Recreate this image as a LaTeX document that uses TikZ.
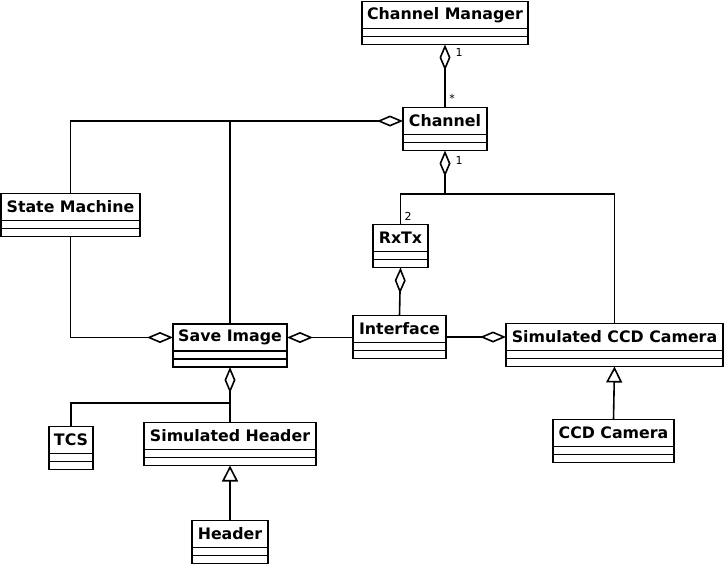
\documentclass[tikz,border=0pt]{standalone}
\usepackage{fontspec}
\setmainfont{DejaVu Sans}
\usetikzlibrary{positioning,arrows.meta}

\tikzset{
  classtitle/.style={draw, line width=1.6pt, minimum height=27pt, inner sep=0pt, outer sep=0pt, font=\fontsize{15.8}{18}\selectfont\bfseries},
  classpart/.style={draw, line width=1.6pt, minimum height=8pt, inner sep=0pt, outer sep=0pt},
  aggr/.style={line width=1.6pt, {Diamond[open,length=26pt,width=11pt]}-},
  gen/.style={line width=1.6pt, -{Triangle[open,length=16pt,width=16pt]}},
  link/.style={line width=1.6pt},
  mult/.style={font=\fontsize{11}{13}\selectfont, inner sep=0pt}
}

\begin{document}
\begin{tikzpicture}[x=1pt, y=-1pt]
\useasboundingbox (0,0) rectangle (725,565);

% Draw the classes (title + two compartments)
\node[classtitle, minimum width=166pt] (mgr) at (445,15) {Channel Manager};
\node[classpart, minimum width=166pt, below=0pt of mgr] (mgr-a) {};
\node[classpart, minimum width=166pt, below=0pt of mgr-a] (mgr-o) {};
\node[classtitle, minimum width=84pt] (chan) at (445,121) {Channel};
\node[classpart, minimum width=84pt, below=0pt of chan] (chan-a) {};
\node[classpart, minimum width=84pt, below=0pt of chan-a] (chan-o) {};
\node[classtitle, minimum width=139pt] (sm) at (70.5,207) {State Machine};
\node[classpart, minimum width=139pt, below=0pt of sm] (sm-a) {};
\node[classpart, minimum width=139pt, below=0pt of sm-a] (sm-o) {};
\node[classtitle, minimum width=55pt] (rxtx) at (400.5,238) {RxTx};
\node[classpart, minimum width=55pt, below=0pt of rxtx] (rxtx-a) {};
\node[classpart, minimum width=55pt, below=0pt of rxtx-a] (rxtx-o) {};
\node[classtitle, minimum width=93pt] (iface) at (399.5,329) {Interface};
\node[classpart, minimum width=93pt, below=0pt of iface] (iface-a) {};
\node[classpart, minimum width=93pt, below=0pt of iface-a] (iface-o) {};
\node[classtitle, minimum width=217pt] (cam) at (614.5,337) {Simulated CCD Camera};
\node[classpart, minimum width=217pt, below=0pt of cam] (cam-a) {};
\node[classpart, minimum width=217pt, below=0pt of cam-a] (cam-o) {};
\node[classtitle, minimum width=114pt] (save) at (230,337.5) {Save Image};
\node[classpart, minimum width=114pt, below=0pt of save] (save-a) {};
\node[classpart, minimum width=114pt, below=0pt of save-a] (save-o) {};
\node[classtitle, minimum width=44pt] (tcs) at (71,440) {TCS};
\node[classpart, minimum width=44pt, below=0pt of tcs] (tcs-a) {};
\node[classpart, minimum width=44pt, below=0pt of tcs-a] (tcs-o) {};
\node[classtitle, minimum width=172pt] (simhdr) at (230,436) {Simulated Header};
\node[classpart, minimum width=172pt, below=0pt of simhdr] (simhdr-a) {};
\node[classpart, minimum width=172pt, below=0pt of simhdr-a] (simhdr-o) {};
\node[classtitle, minimum width=76pt] (hdr) at (230,534) {Header};
\node[classpart, minimum width=76pt, below=0pt of hdr] (hdr-a) {};
\node[classpart, minimum width=76pt, below=0pt of hdr-a] (hdr-o) {};
\node[classtitle, minimum width=121pt] (ccd) at (613.5,433) {CCD Camera};
\node[classpart, minimum width=121pt, below=0pt of ccd] (ccd-a) {};
\node[classpart, minimum width=121pt, below=0pt of ccd-a] (ccd-o) {};

% Junction points
\coordinate (chanjoin) at (445,194);
\coordinate (hdrjoin) at (230,403);

% Aggregations
\draw[aggr] (mgr-o.south) -- (chan.north);
\node[mult] (m1) at (459,52) {1};
\node[mult] (m2) at (452,98) {*};
\draw[aggr] (chan.west) -- (sm.north |- chan.west) -- (sm.north);
\draw[link] (save.north) -- (save.north |- chan.west);
\draw[aggr] (chan-o.south) -- (chanjoin);
\node[mult] (m3) at (459,160) {1};
\draw[link] (rxtx.north) -- (rxtx.north |- chanjoin) -- (cam.north |- chanjoin) -- (cam.north);
\node[mult] (m4) at (408,216) {2};
\draw[aggr] (rxtx-o.south) -- (iface.north);
\draw[aggr] (save.west) -- (sm-o.south |- save.west) -- (sm-o.south);
\draw[aggr] (save.east) -- (iface.west |- save.east);
\draw[aggr] (cam.west) -- (iface.east |- cam.west);
\draw[aggr] (save-o.south) -- (hdrjoin);
\draw[link] (tcs.north) -- (tcs.north |- hdrjoin) -- (hdrjoin) -- (simhdr.north);

% Generalisations
\draw[gen] (hdr.north) -- (simhdr-o.south);
\draw[gen] (ccd.north) -- (cam-o.south);
\end{tikzpicture}
\end{document}
